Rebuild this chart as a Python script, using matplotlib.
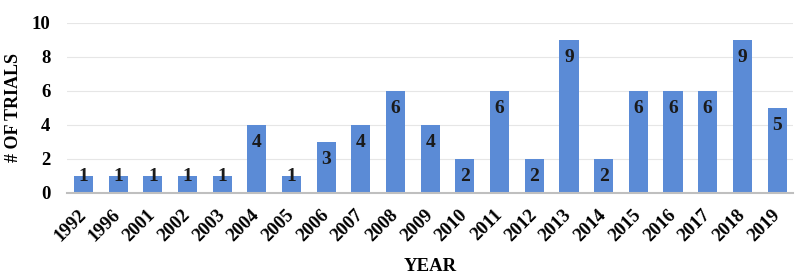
import numpy as np
import matplotlib.pyplot as plt

# Data
years = ["1992", "1996", "2001", "2002", "2003", "2004", "2005", "2006", "2007", "2008",
         "2009", "2010", "2011", "2012", "2013", "2014", "2015", "2016", "2017", "2018", "2019"]
trials = [1, 1, 1, 1, 1, 4, 1, 3, 4, 6, 4, 2, 6, 2, 9, 2, 6, 6, 6, 9, 5]

plt.rcParams['font.family'] = ['Liberation Serif', 'DejaVu Serif']
plt.rcParams['font.weight'] = 'bold'

fig = plt.figure(figsize=(8, 2.8), dpi=100)
ax = fig.add_axes([0.08375, 0.311, 0.9075, 0.607])

x = np.arange(len(years))
ax.bar(x, trials, width=0.55, color='#5B8BD6', zorder=2)

# labels inside the top of each bar
for xi, v in zip(x, trials):
    ax.text(xi, max(v - 1.05, 0.95), str(v), ha='center', va='center',
            fontsize=14, fontweight='bold', color='#1a1a1a', zorder=3)

ax.set_xlim(-0.475, len(years) - 0.54)
ax.set_ylim(0, 10)
ax.set_yticks(range(0, 11, 2))
ax.set_xticks(x)
ax.set_xticklabels(years, rotation=45, ha='right', va='center', rotation_mode='anchor')
ax.tick_params(axis='both', length=0, labelsize=13.5)
ax.tick_params(axis='y', pad=12)
ax.tick_params(axis='x', pad=14)

ax.grid(axis='y', color='#e6e6e6', linewidth=0.8, zorder=0)
for s in ['top', 'right', 'left']:
    ax.spines[s].set_visible(False)
ax.spines['bottom'].set_color('#bfbfbf')
ax.spines['bottom'].set_linewidth(1.5)

ax.set_xlabel("YEAR", fontsize=13.5, fontweight='bold')
ax.set_ylabel("# OF TRIALS", fontsize=13, fontweight='bold')
ax.xaxis.set_label_coords(0.5, -0.38)
ax.yaxis.set_label_coords(-0.062, 0.5)

plt.savefig("out.png", dpi=100)
